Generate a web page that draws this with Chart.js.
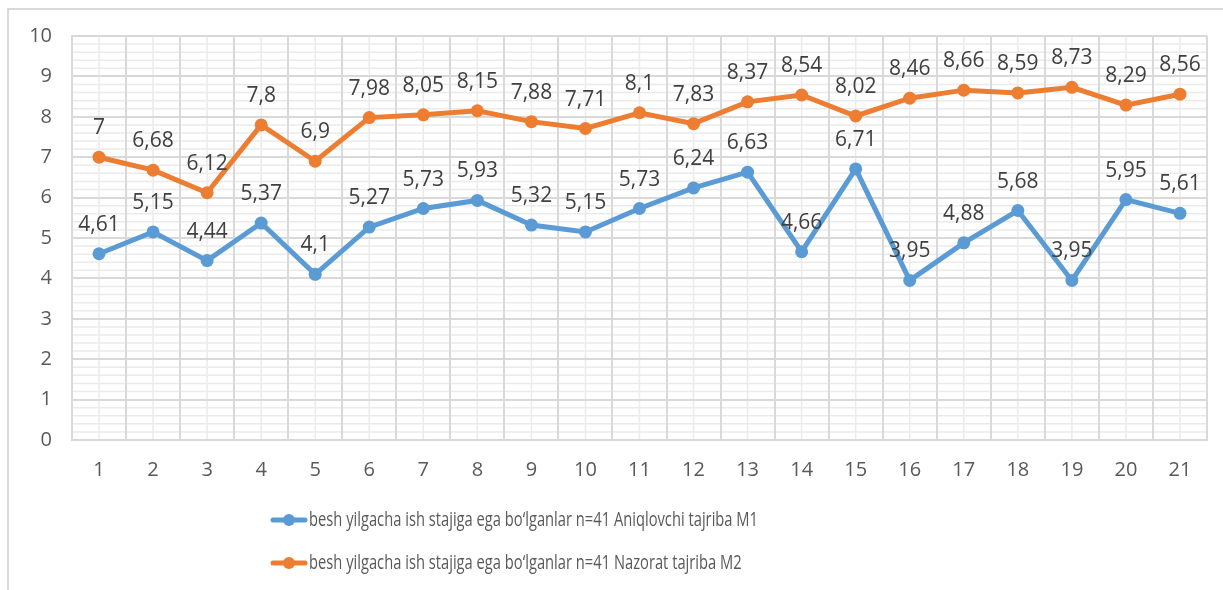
<!DOCTYPE html>
<html>
<head>
<meta charset="utf-8">
<script src="https://cdn.jsdelivr.net/npm/chart.js@4/dist/chart.umd.min.js"></script>
<style>
  html, body { margin: 0; padding: 0; background: #ffffff; overflow: hidden; }
  #wrap { position: relative; width: 1223px; height: 590px; }
  #frame { position: absolute; left: 7px; top: 8px; width: 1400px; height: 700px;
           border-left: 2px solid #d9d9d9; border-top: 2px solid #d9d9d9; }
  #c { position: absolute; left: 0; top: 0; }
</style>
</head>
<body>
<div id="wrap">
  <div id="frame"></div>
  <canvas id="c" width="1223" height="590"></canvas>
</div>
<script>
const categories = ['1','2','3','4','5','6','7','8','9','10','11','12','13','14','15','16','17','18','19','20','21'];
const seriesM1 = [4.61, 5.15, 4.44, 5.37, 4.1, 5.27, 5.73, 5.93, 5.32, 5.15, 5.73, 6.24, 6.63, 4.66, 6.71, 3.95, 4.88, 5.68, 3.95, 5.95, 5.61];
const seriesM2 = [7, 6.68, 6.12, 7.8, 6.9, 7.98, 8.05, 8.15, 7.88, 7.71, 8.1, 7.83, 8.37, 8.54, 8.02, 8.46, 8.66, 8.59, 8.73, 8.29, 8.56];
const seriesNames = [
  'besh yilgacha ish stajiga ega bo\u2018lganlar n=41 Aniqlovchi tajriba M1',
  'besh yilgacha ish stajiga ega bo\u2018lganlar n=41 Nazorat tajriba M2'
];
const yMin = 0, yMax = 10, yStep = 1, yMinorStep = 0.2;

const BLUE = '#5b9bd5', ORANGE = '#ed7d31';
const TICK_FONT = { family: "'Open Sans', sans-serif", size: 20 };
const LABEL_FONT = "21px 'Open Sans', sans-serif";
const LEGEND_FONT = "20px 'Open Sans', sans-serif";
const LEGEND_TEXT_WIDTH = 449;

function fmt(v) { return String(v).replace('.', ','); }

const minorGrid = {
  id: 'minorGrid',
  beforeDraw(chart) {
    const { ctx, chartArea: a, scales: { x, y } } = chart;
    ctx.save();
    ctx.strokeStyle = '#ebebeb';
    ctx.lineWidth = 1.5;
    ctx.beginPath();
    const n = Math.round((yMax - yMin) / yMinorStep);
    for (let k = 1; k < n; k++) {
      const v = yMin + k * yMinorStep;
      if (Math.abs(v - Math.round(v)) < 1e-6) continue;
      const py = y.getPixelForValue(v);
      ctx.moveTo(a.left, py); ctx.lineTo(a.right, py);
    }
    categories.forEach((c, i) => {
      const px = x.getPixelForValue(i);
      ctx.moveTo(px, a.top); ctx.lineTo(px, a.bottom);
    });
    ctx.stroke();
    ctx.restore();
  }
};

const dataLabels = {
  id: 'dataLabels',
  afterDatasetsDraw(chart) {
    const ctx = chart.ctx;
    ctx.save();
    ctx.font = LABEL_FONT;
    ctx.fillStyle = '#404040';
    ctx.textAlign = 'center';
    ctx.textBaseline = 'alphabetic';
    chart.data.datasets.forEach((ds, di) => {
      const meta = chart.getDatasetMeta(di);
      meta.data.forEach((pt, i) => {
        ctx.fillText(fmt(ds.data[i]), pt.x, pt.y - 23);
      });
    });
    ctx.restore();
  }
};

const customLegend = {
  id: 'customLegend',
  afterDraw(chart) {
    const ctx = chart.ctx;
    const left = 273, top = 520, rowGap = 43, lineLen = 32;
    ctx.save();
    ctx.font = LEGEND_FONT;
    const k = LEGEND_TEXT_WIDTH / ctx.measureText(seriesNames[0]).width;
    chart.data.datasets.forEach((ds, i) => {
      const cy = top + i * rowGap;
      ctx.strokeStyle = ds.borderColor;
      ctx.lineWidth = 5;
      ctx.lineCap = 'round';
      ctx.beginPath();
      ctx.moveTo(left, cy); ctx.lineTo(left + lineLen, cy);
      ctx.stroke();
      ctx.fillStyle = ds.borderColor;
      ctx.beginPath();
      ctx.arc(left + lineLen / 2, cy, 6, 0, Math.PI * 2);
      ctx.fill();
      ctx.save();
      ctx.font = LEGEND_FONT;
      ctx.fillStyle = '#595959';
      ctx.textAlign = 'left';
      ctx.textBaseline = 'middle';
      ctx.translate(left + lineLen + 4, cy);
      ctx.scale(k, 1);
      ctx.fillText(ds.label, 0, 0);
      ctx.restore();
    });
    ctx.restore();
  }
};

new Chart(document.getElementById('c'), {
  type: 'line',
  data: {
    labels: categories,
    datasets: [
      { label: seriesNames[0], data: seriesM1, borderColor: BLUE, backgroundColor: BLUE,
        borderWidth: 5, pointRadius: 6.5, pointHoverRadius: 6.5, pointBorderWidth: 0,
        pointBackgroundColor: BLUE, tension: 0, clip: false },
      { label: seriesNames[1], data: seriesM2, borderColor: ORANGE, backgroundColor: ORANGE,
        borderWidth: 5, pointRadius: 6.5, pointHoverRadius: 6.5, pointBorderWidth: 0,
        pointBackgroundColor: ORANGE, tension: 0, clip: false }
    ]
  },
  options: {
    responsive: false,
    animation: false,
    devicePixelRatio: 1,
    layout: { padding: { top: 36, right: 16, left: 0, bottom: 0 } },
    plugins: { legend: { display: false }, tooltip: { enabled: false } },
    scales: {
      x: {
        type: 'category',
        offset: true,
        grid: { offset: true, color: '#d9d9d9', lineWidth: 2, drawTicks: false },
        border: { color: '#d9d9d9', width: 2 },
        ticks: { padding: 18, color: '#595959', font: TICK_FONT, maxRotation: 0, autoSkip: false },
        afterFit(s) { s.height = 150; }
      },
      y: {
        min: yMin, max: yMax,
        grid: { color: '#d9d9d9', lineWidth: 2, drawTicks: false },
        border: { color: '#d9d9d9', width: 2 },
        ticks: { stepSize: yStep, padding: 20, color: '#595959', font: TICK_FONT },
        afterFit(s) { s.width = 72; }
      }
    }
  },
  plugins: [minorGrid, dataLabels, customLegend]
});
</script>
</body>
</html>
